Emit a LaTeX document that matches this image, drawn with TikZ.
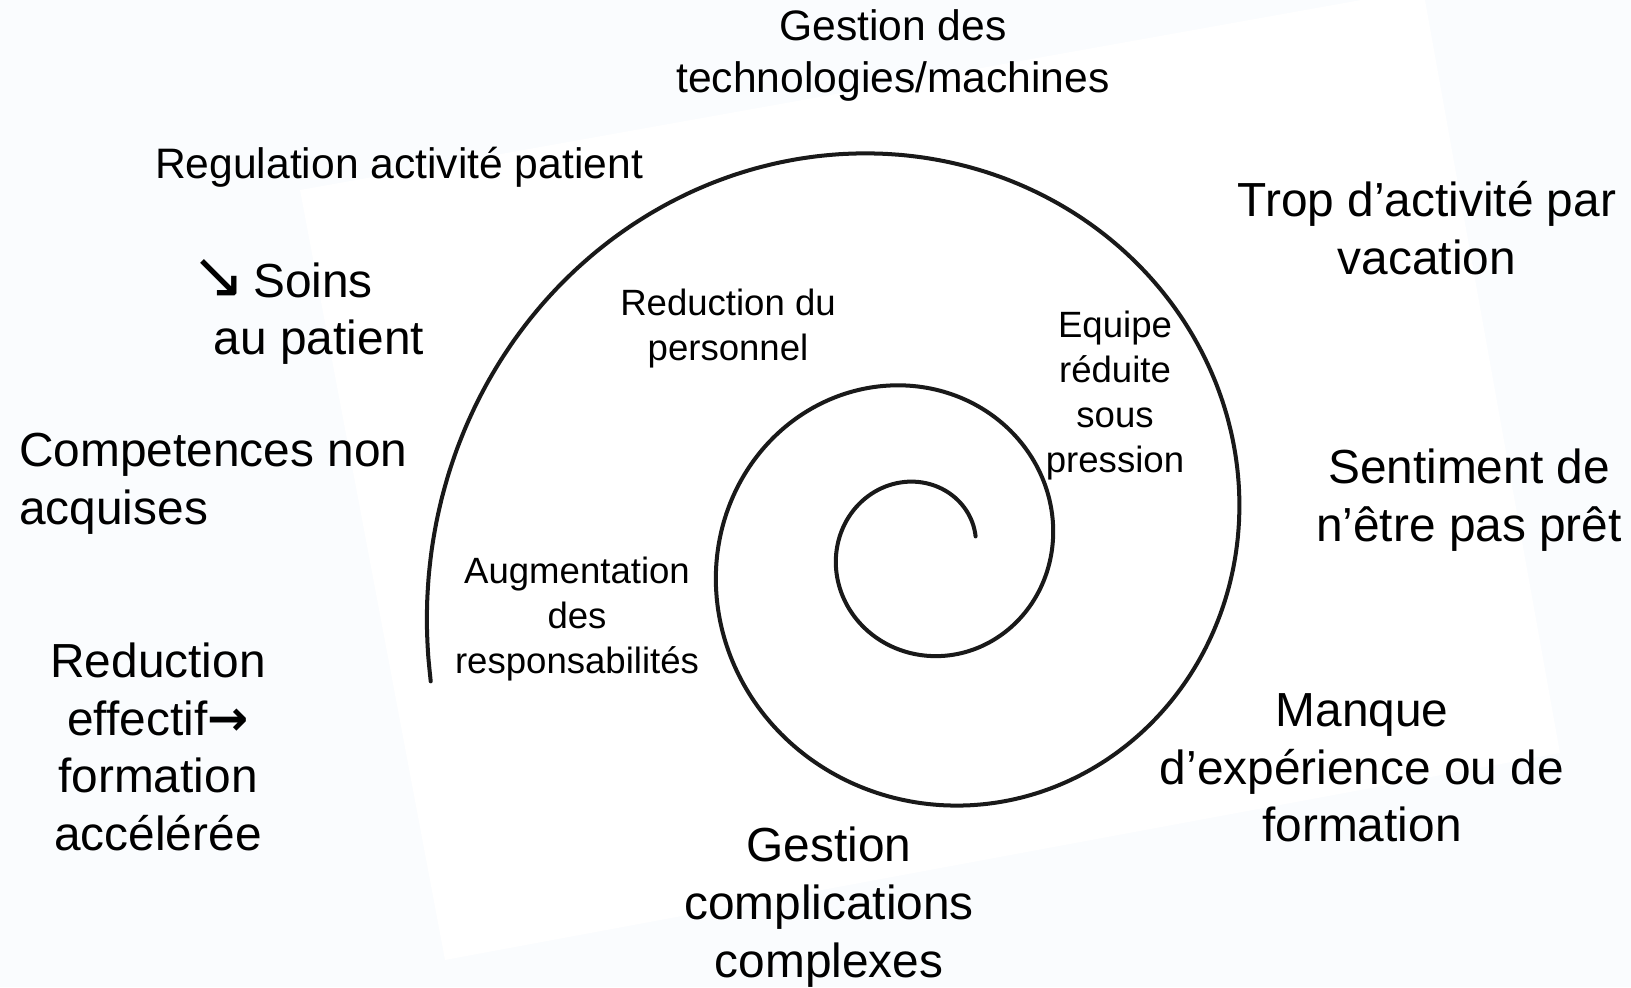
\documentclass[tikz,border=0pt]{standalone}
\usepackage{fontspec}
\setmainfont{Liberation Sans}
\newfontfamily\arrowfont{DejaVu Sans}
\newfontfamily\arrowboldfont{DejaVu Sans Bold}
\definecolor{outside}{RGB}{250,252,254}
\begin{document}
\begin{tikzpicture}[x=0.025cm, y=-0.025cm,
  big/.style={font=\fontsize{34}{41}\selectfont, align=center, inner sep=0pt},
  mid/.style={font=\fontsize{30.3}{37}\selectfont, align=center, inner sep=0pt},
  small/.style={font=\fontsize{26}{32}\selectfont, align=center, inner sep=0pt},
  spiralline/.style={line width=2.85pt, line cap=round, black!90}]
\useasboundingbox[fill=outside] (0,0) rectangle (1631,987);
% faint scanned sheet behind the spiral
\fill[white] (300,190) -- (445,960) -- (1560,753) -- (1425,0) -- (1361,0) -- cycle;

% spiral
\draw[spiralline] plot[domain=14:915, samples=300, smooth]
  ({921+54.37*exp(0.0024433*\x)*cos(\x)}, {550-54.37*exp(0.0024433*\x)*sin(\x)});

% outer labels
\node[mid] (techno) at (893,55) {Gestion des\\technologies/machines};
\node[mid] (regul) at (399,167) {Regulation activité patient};
\node[big] (soins) at (282,279) {{\arrowfont\fontsize{46}{46}\selectfont ↘}\,Soins};
\node[big] (aupat) at (319,342) {au patient};
\node[big, align=left, anchor=west] (compet) at (19,484) {Competences non\\acquises};
\node[big] (reduc) at (158,747) {Reduction\\effectif{\arrowboldfont\fontsize{35}{35}\selectfont →}\\formation\\accélérée};
\node[big] (trop) at (1427,228) {Trop d’activité par\\vacation};
\node[big] (senti) at (1469,500) {Sentiment de\\n’être pas prêt};
\node[big] (manque) at (1362,768) {Manque\\d’expérience ou de\\formation};
\node[big] (compli) at (829,907) {Gestion\\complications\\complexes};

% inner labels
\node[small] (perso) at (728,329) {Reduction du\\personnel};
\node[small] (equipe) at (1115,396) {Equipe\\réduite\\sous\\pression};
\node[small] (augm) at (577,619) {Augmentation\\des\\responsabilités};
\end{tikzpicture}
\end{document}
